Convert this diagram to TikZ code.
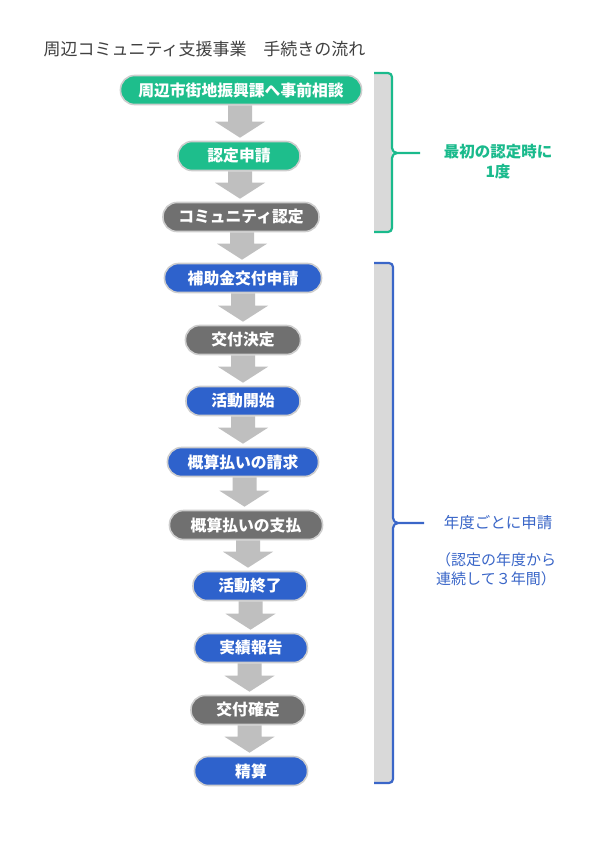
\documentclass[tikz,border=0pt]{standalone}
\usepackage{fontspec}
\setmainfont{Noto Sans CJK JP}
\usetikzlibrary{calc}
\definecolor{cgreen}{RGB}{30,190,140}
\definecolor{cblue}{RGB}{46,98,204}
\definecolor{cdark}{RGB}{112,112,112}
\definecolor{carrow}{RGB}{191,191,191}
\definecolor{cpanel}{RGB}{217,217,217}
\definecolor{cbord}{RGB}{205,205,205}
\definecolor{ctitle}{RGB}{64,64,64}
\definecolor{cbrgreen}{RGB}{26,186,140}
\definecolor{cbrblue}{RGB}{58,102,200}
\tikzset{
  stepbox/.style={rectangle, rounded corners=14pt, draw=cbord, line width=1.6pt,
    minimum height=29pt, inner sep=0pt, text=white, font=\fontsize{15.8}{15.8}\selectfont\bfseries},
  greenbox/.style={stepbox, fill=cgreen},
  bluebox/.style={stepbox, fill=cblue},
  darkbox/.style={stepbox, fill=cdark},
  bracegreen/.style={draw=cbrgreen, line width=2.2pt, line join=round},
  braceblue/.style={draw=cbrblue, line width=2.2pt, line join=round},
  labeltext/.style={align=center, font=\fontsize{15.5}{20}\selectfont},
}
\newcommand{\flowarrow}[2]{%
  \fill[carrow] let \p1=(#1.south), \p2=(#2.north), \p3=($(#1.south)!0.5!(#2.north)$) in
    ({\x3-12pt},{\y1}) -- ({\x3+12pt},{\y1})
    -- ({\x3+12pt},{\y2+19pt}) -- ({\x3+25pt},{\y2+19pt})
    -- ({\x3},{\y2+3pt})
    -- ({\x3-25pt},{\y2+19pt}) -- ({\x3-12pt},{\y2+19pt}) -- cycle;}
\begin{document}
\begin{tikzpicture}[x=1pt,y=-1pt]
\useasboundingbox (0,0) rectangle (596,842);
\fill[white] (0,0) rectangle (596,842);

\node[anchor=west, text=ctitle, font=\fontsize{17}{17}\selectfont] (title) at (40,49) {周辺コミュニティ支援事業\hspace{1em}手続きの流れ};

% side panels
\fill[cpanel] (374,73) rectangle (392,232);
\fill[cpanel] (374,263) rectangle (393,783);

% nodes
\node[greenbox, minimum width=241pt] (n1) at (241,90) {周辺市街地振興課へ事前相談};
\node[greenbox, minimum width=122pt] (n2) at (239,156) {認定申請};
\node[darkbox, minimum width=156pt] (n3) at (241,217) {コミュニティ認定};
\node[bluebox, minimum width=157pt] (n4) at (243,278) {補助金交付申請};
\node[darkbox, minimum width=115pt] (n5) at (243,340) {交付決定};
\node[bluebox, minimum width=114pt] (n6) at (243,401) {活動開始};
\node[bluebox, minimum width=151pt] (n7) at (243,462) {概算払いの請求};
\node[darkbox, minimum width=153pt] (n8) at (246,525) {概算払いの支払};
\node[bluebox, minimum width=114pt] (n9) at (250,586) {活動終了};
\node[bluebox, minimum width=113pt] (n10) at (251,648) {実績報告};
\node[darkbox, minimum width=114pt] (n11) at (248,710) {交付確定};
\node[bluebox, minimum width=113pt] (n12) at (251,771) {精算};

% arrows
\flowarrow{n1}{n2}
\flowarrow{n2}{n3}
\flowarrow{n3}{n4}
\flowarrow{n4}{n5}
\flowarrow{n5}{n6}
\flowarrow{n6}{n7}
\flowarrow{n7}{n8}
\flowarrow{n8}{n9}
\flowarrow{n9}{n10}
\flowarrow{n10}{n11}
\flowarrow{n11}{n12}

% braces
\coordinate (gtip) at (420,153);
\draw[bracegreen] (374,73) -- (388,73) to[out=0,in=90] (392,77) -- (392,148)
  to[out=-90,in=180] (397,153) -- (gtip);
\draw[bracegreen] (397,153) to[out=180,in=90] (392,158) -- (392,228)
  to[out=-90,in=0] (388,232) -- (374,232);
\coordinate (btip) at (424,523);
\draw[braceblue] (374,263) -- (389,263) to[out=0,in=90] (393,267) -- (393,518)
  to[out=-90,in=180] (398,523) -- (btip);
\draw[braceblue] (398,523) to[out=180,in=90] (393,528) -- (393,779)
  to[out=-90,in=0] (389,783) -- (374,783);

% labels
\node[labeltext, text=cbrgreen, font=\fontsize{15.5}{20}\selectfont\bfseries] (lg) at (498,162) {最初の認定時に\\1度};
\node[labeltext, text=cbrblue] (lb1) at (498,523) {年度ごとに申請};
\node[labeltext, text=cbrblue, font=\fontsize{15}{19}\selectfont] (lb2) at (496,569) {（認定の年度から\\連続して３年間）};
\end{tikzpicture}
\end{document}
